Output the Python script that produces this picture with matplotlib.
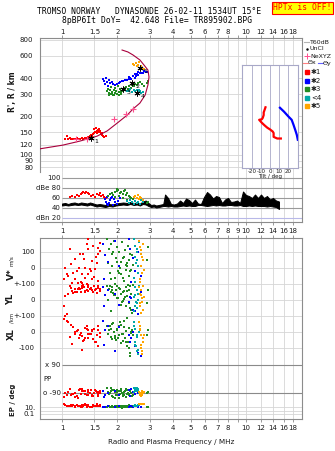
import numpy as np
import matplotlib
matplotlib.use("Agg")
import matplotlib.pyplot as plt
from matplotlib.lines import Line2D
from matplotlib.ticker import NullLocator

plt.rcParams['font.family'] = ['DejaVu Sans']
W, H = 335, 451

# ---------------- data ----------------
freq_ticks = [1, 1.5, 2, 3, 4, 5, 6, 7, 8, 9, 10, 12, 14, 16, 18]
freq_labels = ["1", "1.5", "2", "3", "4", "5", "6", "7", "8", "", "10", "12", "14", "16", "18"]
freq_labels_mid = ["1", "1.5", "2", "3", "4", "5", "6", "7", "8", "9", "10", "12", "14", "16", "18"]
range_ticks = [80, 90, 100, 120, 150, 200, 300, 400, 600, 800]
db_ticks = [100, 80, 60, 40, 20]
db_labels = ["100", "dBe 80", "60", "40", "dBn 20"]

# model profile (plasma frequency vs real height)
prof_f = [0.75, 1.01, 1.25, 1.55, 1.76, 2.0, 2.26, 2.43, 2.65, 2.83, 2.93, 2.97, 2.93, 2.79, 2.65, 2.43, 2.28, 2.12]
prof_km = [111, 119, 128, 140, 154, 178, 205, 229, 255, 295, 354, 409, 464, 508, 557, 610, 644, 667]
nexyz_f = [1.19, 1.37, 1.92, 2.23, 2.43]
nexyz_km = [133, 133, 191, 209, 229]
star_f = [1.44, 2.40, 2.14, 2.56, 2.65]
star_km = [136, 366, 329, 306, 483]
star_txt = ["1", "2", "3", "4", "5"]

# virtual range per cluster
red_rf = [1.04, 1.06, 1.08, 1.10, 1.12, 1.15, 1.18, 1.20, 1.22, 1.25, 1.28, 1.30, 1.33, 1.36, 1.38, 1.40, 1.42, 1.44, 1.46,
          1.48, 1.50, 1.52, 1.54, 1.55, 1.57, 1.58, 1.60, 1.62, 1.64, 1.66, 1.70, 1.74, 1.50, 1.53, 1.56, 1.45, 1.60, 1.65]
red_rkm = [134, 140, 133, 136, 134, 132, 133, 135, 134, 133, 135, 134, 135, 136, 137, 138, 140, 142, 141,
           145, 147, 150, 148, 155, 152, 158, 150, 146, 143, 141, 139, 140, 160, 162, 156, 137, 153, 147]
blue_rf = [1.67, 1.70, 1.74, 1.76, 1.80, 1.82, 1.86, 1.89, 1.95, 2.00, 2.05, 2.07, 2.12, 2.14, 2.20, 2.25, 2.30, 2.34,
           2.38, 2.43, 2.48, 2.52, 2.56, 2.60, 2.65, 2.70, 2.76, 2.80, 2.85, 2.90, 1.72, 1.78, 2.30, 2.50, 2.60]
blue_rkm = [394, 380, 400, 373, 385, 366, 372, 359, 352, 360, 368, 373, 380, 382, 390, 387, 395, 402,
            398, 416, 405, 420, 432, 425, 440, 436, 440, 452, 446, 449, 360, 350, 410, 430, 445]
green_rf = [1.76, 1.78, 1.80, 1.82, 1.85, 1.87, 1.90, 1.92, 1.95, 1.97, 2.0, 2.03, 2.06, 2.08, 2.10, 2.13, 2.16, 2.20,
            2.24, 2.28, 2.32, 2.36, 2.40, 2.45, 2.50, 2.55, 2.60, 2.66, 2.72, 2.80, 2.88, 2.95, 1.80, 1.86, 1.92,
            1.98, 2.04, 2.10, 1.84, 1.94, 2.02]
green_rkm = [318, 330, 305, 322, 300, 312, 296, 325, 305, 318, 298, 310, 328, 303, 315, 320, 335, 326,
             340, 330, 345, 338, 352, 348, 360, 355, 365, 372, 360, 350, 370, 380, 296, 300, 293,
             300, 295, 305, 340, 335, 345]
cyan_rf = [2.25, 2.30, 2.35, 2.40, 2.45, 2.50, 2.55, 2.60, 2.65, 2.70, 2.75, 2.58, 2.62, 2.68]
cyan_rkm = [320, 315, 330, 312, 325, 318, 322, 310, 316, 308, 312, 300, 326, 305]
orange_rf = [2.42, 2.47, 2.52, 2.56, 2.60, 2.65, 2.70, 2.74, 2.78, 2.62, 2.68]
orange_rkm = [520, 510, 530, 495, 505, 480, 490, 475, 470, 540, 500]

# tilt inset
tiltx_deg = [-5, -6, -7, -7, -8, -9, -12, -9, -6, -3, 0, 2, 3, 4, 4, 8, 12]
tiltx_km = [236, 225, 215, 205, 195, 190, 188, 178, 170, 163, 158, 154, 152, 148, 138, 134, 134]
tilty_deg = [11, 15.5, 20.3, 24, 26, 28, 29.7, 30.8]
tilty_km = [234, 218, 200, 188, 172, 156, 143, 131]

# amplitudes
red_df = [1.10, 1.13, 1.17, 1.20, 1.23, 1.26, 1.28, 1.30, 1.33, 1.35, 1.38, 1.40, 1.44, 1.48, 1.52, 1.55, 1.58,
          1.60, 1.63, 1.66, 1.70, 1.73]
red_db = [62, 64, 63, 66, 65, 68, 70, 72, 70, 73, 71, 69, 64, 66, 62, 68, 66, 70, 64, 67, 63, 60]
blue_df = [1.72, 1.74, 1.76, 1.78, 1.80, 1.82, 1.85, 1.88, 1.92, 1.95, 1.98, 2.02, 2.06, 1.75, 1.90]
blue_db = [58, 52, 48, 46, 50, 56, 60, 62, 58, 52, 48, 54, 60, 62, 46]
green_df = [1.78, 1.82, 1.86, 1.90, 1.94, 1.98, 2.02, 2.06, 2.10, 2.14, 2.18, 2.22, 2.26, 2.30, 2.34, 2.38, 2.42,
            1.95, 2.05, 2.15, 2.25, 2.0, 2.2, 2.9, 2.95]
green_db = [64, 68, 70, 66, 72, 74, 76, 70, 72, 68, 74, 66, 70, 64, 62, 60, 58, 62, 64, 60, 56, 78, 76, 50, 52]
cyan_df = [2.25, 2.30, 2.35, 2.40, 2.45, 2.50, 2.55, 2.60, 2.65, 2.70, 2.75]
cyan_db = [54, 50, 56, 52, 48, 55, 50, 53, 49, 56, 52]
orange_df = [2.45, 2.50, 2.55, 2.58, 2.62, 2.66, 2.70, 2.75]
orange_db = [62, 64, 60, 66, 58, 62, 60, 57]

# noise level trace (lower / upper envelope, dB)
noise_f = [1.00, 1.04, 1.08, 1.12, 1.17, 1.22, 1.27, 1.32, 1.37, 1.42, 1.48, 1.54, 1.60, 1.66, 1.72, 1.80, 1.88,
           1.96, 2.05, 2.15, 2.25, 2.35, 2.45, 2.55, 2.65, 2.75, 2.85, 2.95, 3.05, 3.15, 3.25, 3.35, 3.45, 3.55,
           3.63, 3.77, 3.91, 4.06, 4.22, 4.38, 4.55, 4.72, 4.90, 5.09, 5.28, 5.48, 5.69, 5.91, 6.14, 6.37, 6.62,
           6.87, 7.13, 7.41, 7.69, 7.98, 8.29, 8.61, 8.94, 9.28, 9.63, 10.0, 10.38, 10.78, 11.19, 11.62, 12.06,
           12.52, 13.0, 13.5, 14.02, 14.55, 15.11]
noise_hi = [49, 50, 48, 50, 51, 49, 51, 50, 49, 51, 49, 47, 48, 47, 46, 48, 47, 49, 50, 51, 50, 52, 50, 51, 49,
            53, 55, 50, 46, 47, 45, 46, 47, 48,
            67, 60, 48, 47, 49, 55, 50, 59, 56, 50, 57, 49, 48, 62, 72, 67, 59, 64, 62, 50, 57, 60, 52, 53, 55,
            50, 73, 66, 64, 60, 67, 60, 67, 60, 64, 57, 60, 55, 53]
noise_lo = [45, 46, 45, 46, 47, 46, 47, 46, 45, 47, 45, 43, 44, 43, 42, 44, 43, 45, 46, 47, 46, 48, 46, 47, 45,
            48, 47, 44, 42, 43, 41, 42, 43, 44,
            44, 43, 44, 43, 43, 44, 45, 44, 45, 44, 44, 46, 46, 45, 44, 45, 46, 45, 46, 45, 45, 46, 46, 45, 45,
            46, 44, 44, 45, 44, 45, 44, 44, 44, 43, 44, 43, 42, 38]

# velocity V* (m/s), location YL / XL (km), polarisation PP (deg), ellipticity EP (deg)
red_f = [1.39, 1.36, 1.39, 1.57, 1.61, 1.56, 1.25, 1.18, 1.31, 1.45, 1.04, 1.23, 1.33, 1.42, 1.20, 1.51, 1.15, 1.28,
         1.39, 1.08, 1.02, 1.18, 1.33, 1.45, 1.57, 1.13, 1.28, 1.06, 1.54, 1.61,
         1.10, 1.22, 1.30, 1.36, 1.44, 1.48, 1.50, 1.53, 1.12, 1.26]
red_v = [179, 148, 117, 127, 106, 85, 85, 54, 54, 44, 2, 2, 2, -8, -19, -8, -29, -40, -40, -50, -71, -71, -60, -71,
         -81, -92, -92, -40, 33, 158, 120, -95, 90, -100, -20, 140, -55, 70, 25, -85]
red_yl = [81, 62, 94, 75, 56, 88, 69, 50, 81, 62, 25, 75, 56, 69, 50, 62, 44, 75, 56, 38, -40, 69, 50, 62, 81, 56,
          88, -90, 44, 69, 85, 70, 92, 60, 78, 52, 88, 66, 72, 48]
red_xl = [-10, 20, -40, 10, -30, 40, -20, 0, -50, 15, 100, -35, 25, -10, 5, -60, 30, -25, 10, 60, 80, -15, -40, 5,
          -90, -75, -110, 70, -20, -5, -30, 15, -55, 35, -15, -45, 20, -65, 45, -5]
red_pp = [-70, -100, -85, -110, -75, -95, -65, -115, -80, -105, -90, -72, -98, -88, -112, -68, -94, -78, -102, -84,
          -118, -92, -74, -108, -86, -96, -66, -104, -82, -90, -62, -120, -80, -100, -70, -110, -90, -76, -106, -96]
red_ep = [20, 12, 35, 15, 50, 18, 25, 11, 40, 13, 30, 22, 60, 12, 28, 16, 45, 11, 33, 14, 55, 19, 38, 12, 26, 17,
          42, 20, 70, 24, 18, 24, 14, 30, 11, 36, 22, 16, 27, 13]

green_f = [1.76, 1.80, 1.84, 1.88, 1.92, 1.96, 2.00, 2.04, 2.08, 2.12, 2.16, 2.20, 2.24, 2.28, 2.32, 2.36, 2.40,
           1.78, 1.82, 1.86, 1.90, 1.94, 1.98, 2.02, 2.06, 2.10, 2.14, 2.18, 2.22, 2.26, 2.30, 2.34, 2.38, 2.42,
           1.85, 1.95, 2.05, 2.15, 2.25, 2.35, 2.90, 2.95]
green_v = [180, 120, 150, 90, 170, 60, 130, 100, 40, 160, 70, 110, 20, 140, 50, -10, 80, 30, -30, 10, 100, -60,
           40, -20, 0, -40, 60, -80, -10, 30, -50, 90, -90, 20, -70, -100, -30, -60, 10, -20, 50, 130]
green_yl = [90, 70, 50, 80, 30, 60, 10, 75, 40, -10, 55, 20, -40, 95, -20, -60, -80, 0, 85, 65, 45, 35, 90, 15,
            70, -30, 50, 5, 80, 25, 60, -50, 40, 95, -70, 30, 75, -5, 55, 85, -20, 60]
green_xl = [40, 10, -30, 50, 0, -50, 20, -20, 45, -10, 30, -40, 5, -60, 25, -5, 15, -15, 35, -45, 55, -25, 10,
            -35, 60, -70, -55, 70, -65, 90, -100, -130, 0, -20, 20, -40, 40, -10, -85, -150, -20, 10]
green_pp = [-60, -95, -80, -110, -70, -100, -85, -120, -65, -90, -105, -75, -115, -88, -98, -62, -108, -82, -92,
            -72, -118, -86, -68, -102, -96, -78, -112, -84, -66, -94, -104, -74, -90, -100, -58, -122, -80, -95,
            -70, -110, -90, -85]
green_ep = [10, 14, 8, 18, 11, 25, 9, 13, 16, 7, 20, 12, 10, 15, 30, 9, 12, 17, 11, 22, 8, 14, 19, 10, 13, 9, 16,
            11, 24, 12, 10, 15, 8, 18, 13, 11, 9, 14, 20, 10, 12, 10]

blue_f = [1.68, 1.72, 1.78, 2.30, 2.35, 2.42, 2.48, 1.95, 2.05, 2.60, 2.70, 1.70, 2.38]
blue_v = [150, 80, 40, 180, 120, 60, -20, 170, 10, 100, -50, -70, -90]
blue_yl = [80, 30, 60, -10, 20, -60, -70, 40, -30, -90, 50, -40, 10]
blue_xl = [70, 10, 40, -20, -60, 0, -90, -120, 30, -130, -150, -80, -40]
blue_pp = [-80, -100, -90, -70, -110, -85, -95, -75, -105, -88, -92, -115, -65]
blue_ep = [12, 9, 15, 10, 20, 8, 14, 11, 16, 9, 13, 10, 18]

cyan_f = [2.45, 2.50, 2.55, 2.48, 2.52, 2.58, 2.46, 2.60, 2.62, 2.54, 2.49, 2.57]
cyan_v = [180, 140, 100, 70, 30, -30, -60, 10, 160, 120, -90, 50]
cyan_yl = [20, -40, 60, 80, -10, 40, -70, 0, 90, -20, 30, -50]
cyan_xl = [60, 20, -20, -60, -90, -110, 40, -140, 0, -30, -80, -120]
cyan_pp = [-60, -70, -80, -55, -75, -65, -85, -70, -90, -60, -78, -68]
cyan_ep = [20, 30, 25, 40, 18, 35, 22, 28, 45, 15, 32, 26]

orange_f = [2.62, 2.66, 2.70, 2.74, 2.68, 2.72, 2.64, 2.76, 2.70, 2.65, 2.73, 2.78]
orange_v = [170, 130, 90, 50, 10, -30, -70, 150, 110, -90, 70, -10]
orange_yl = [80, -20, 30, -60, 60, 10, -40, 90, -80, 40, -10, 20]
orange_xl = [60, 20, -20, -60, -100, -140, 10, -40, -80, 40, -120, -20]
orange_pp = [-85, -95, -100, -90, -110, -80, -105, -92, -88, -98, -102, -86]
orange_ep = [70, 85, 65, 95, 75, 90, 68, 80, 72, 88, 66, 92]

RED, BLUE, GREEN, CYAN, ORANGE = '#ff0000', '#0000ff', '#228b22', '#00a8a8', '#ffa500'
legend_names = ["\u27311", "\u27312", "\u27313", "<4", "\u27315"]

# ---------------- layout helpers ----------------
fig = plt.figure(figsize=(W / 100, H / 100), dpi=100)


def box(x0, y0, x1, y1):
    return [x0 / W, 1 - y1 / H, (x1 - x0) / W, (y1 - y0) / H]


def fx(x):
    return x / W


def fy(y):
    return 1 - y / H


XLIM = (0.759, 20.15)
GRID = '#d6d6d6'
FRAME = '#8c8c8c'
TXT = '#1a1a1a'
FS = 5
SQ = dict(marker='s', s=3.2, linewidths=0)

axR = fig.add_axes(box(40, 38, 302, 172))
axD = fig.add_axes(box(40, 172, 302, 222))
axL = fig.add_axes(box(40, 238, 302, 419))
axT = fig.add_axes(box(242, 65, 298, 168))
axT.set_zorder(5)

for ax in (axR, axD, axL):
    ax.set_xscale('log')
    ax.set_xlim(*XLIM)
    ax.set_xticks(freq_ticks)
    ax.xaxis.set_minor_locator(NullLocator())
    ax.patch.set_alpha(0)
    for f in freq_ticks:
        ax.axvline(f, color=GRID, lw=0.6, zorder=0)
    for s in ax.spines.values():
        s.set_color(FRAME)
        s.set_linewidth(0.8)
    ax.tick_params(colors=FRAME, labelcolor=TXT, labelsize=FS, width=0.6)

# ---- range panel ----
axR.set_yscale('log')
axR.set_ylim(73.1, 829.5)
axR.yaxis.set_minor_locator(NullLocator())
axR.set_yticks(range_ticks)
axR.set_yticklabels([str(v) for v in range_ticks])
axR.tick_params(axis='y', length=0, pad=5)
for r in range_ticks:
    axR.axhline(r, color=GRID, lw=0.6, zorder=0)
axR.xaxis.tick_top()
axR.set_xticklabels(freq_labels)
axR.tick_params(axis='x', length=2, pad=0.5)
axR.spines['bottom'].set_visible(False)

axR.plot(prof_f, prof_km, color='#a8003c', lw=0.8, zorder=3)
axR.scatter(red_rf, red_rkm, color=RED, zorder=2, **SQ)
axR.scatter(blue_rf, blue_rkm, color=BLUE, zorder=2, **SQ)
axR.scatter(green_rf, green_rkm, color=GREEN, zorder=2, **SQ)
axR.scatter(cyan_rf, cyan_rkm, color=CYAN, zorder=2, **SQ)
axR.scatter(orange_rf, orange_rkm, color=ORANGE, zorder=2, **SQ)
axR.scatter(nexyz_f, nexyz_km, marker='+', color='#ff4f8f', s=14, linewidths=0.8, zorder=4)
axR.scatter(star_f, star_km, marker=(6, 2, 0), color='black', s=14, linewidths=0.7, zorder=5)
for f, r, t in zip(star_f, star_km, star_txt):
    axR.annotate(t, (f, r), xytext=(2.5, -2.5), textcoords='offset points', fontsize=4.5,
                 ha='left', va='center', zorder=5)

# ---- tilt inset ----
axT.set_yscale('log')
axT.set_ylim(78.5, 508)
axT.set_xlim(-31, 31)
axT.set_yticks([])
axT.yaxis.set_minor_locator(NullLocator())
axT.set_xticks([-20, -10, 0, 10, 20])
axT.set_xticklabels(["-20", "-10", "0", "10", "20"])
axT.tick_params(axis='x', length=0, pad=0.5, labelsize=4, labelcolor=TXT)
axT.set_xlabel("Tilt / deg", fontsize=4, labelpad=0, color=TXT)
for d in [-20, -10, 0, 10, 20]:
    axT.axvline(d, color='#a8a8c8', lw=0.6, zorder=0)
for s in axT.spines.values():
    s.set_color('#a8a8c8')
    s.set_linewidth(0.8)
axT.plot(tiltx_deg, tiltx_km, color=RED, lw=1.6)
axT.plot(tilty_deg, tilty_km, color=BLUE, lw=1.6)

# ---- amplitude panel ----
axD.set_ylim(12, 112)
axD.set_yticks([])
axD.spines['left'].set_visible(False)
axD.spines['top'].set_visible(False)
axD.set_xticklabels(freq_labels_mid)
axD.tick_params(axis='x', length=2, pad=2)
for v, lab in zip(db_ticks, db_labels):
    axD.hlines(v, 1.0, XLIM[1], color='#b8b8e8' if v == 20 else '#9a9a9a', lw=0.8, zorder=1)
    axD.text(0.985, v, lab, ha='right', va='center', fontsize=FS, color=TXT)
axD.fill_between(noise_f, noise_lo, noise_hi, color='black', lw=0.7, zorder=3)
axD.scatter(red_df, red_db, color=RED, zorder=4, **SQ)
axD.scatter(blue_df, blue_db, color=BLUE, zorder=4, **SQ)
axD.scatter(green_df, green_db, color=GREEN, zorder=4, **SQ)
axD.scatter(cyan_df, cyan_db, color=CYAN, zorder=4, **SQ)
axD.scatter(orange_df, orange_db, color=ORANGE, zorder=4, **SQ)

# ---- lower stacked panel: V*, YL, XL, PP, EP ----
YL_OFF, XL_OFF = -200, -400
PP_X, PP_O = -606.25, -781.25
EP10, EP_DEC = -868.75, 21.875
axL.set_ylim(-943.75, 187.5)
ytk = [100, 0, -100, -200, -300, -400, -500, EP10, EP10 - 2 * EP_DEC]
axL.set_yticks(ytk)
axL.set_yticklabels(["100", "0", "+-100", "0", "+-100", "0", "-100", "10.", "0.1"])
axL.tick_params(axis='y', length=0, pad=3.5)
axL.set_xticklabels(freq_labels)
axL.tick_params(axis='x', length=2, pad=2, top=True, direction='out')
for v in ytk + [EP10 - EP_DEC]:
    axL.axhline(v, color=GRID, lw=0.6, zorder=0)
axL.hlines([PP_X, PP_O], 1.0, XLIM[1], color='#8a8a8a', lw=0.8, zorder=1)
axL.text(0.985, PP_X, "x 90", ha='right', va='center', fontsize=FS, color=TXT)
axL.text(0.985, PP_O, "o -90", ha='right', va='center', fontsize=FS, color=TXT)
axL.text(0.79, -693.75, "PP", ha='left', va='center', fontsize=FS, color=TXT)
axL.set_xlabel("Radio and Plasma Frequency / MHz", fontsize=5.2, labelpad=6, color=TXT)

groups = [(RED, red_f, red_v, red_yl, red_xl, red_pp, red_ep),
          (GREEN, green_f, green_v, green_yl, green_xl, green_pp, green_ep),
          (BLUE, blue_f, blue_v, blue_yl, blue_xl, blue_pp, blue_ep),
          (CYAN, cyan_f, cyan_v, cyan_yl, cyan_xl, cyan_pp, cyan_ep),
          (ORANGE, orange_f, orange_v, orange_yl, orange_xl, orange_pp, orange_ep)]
for col, f, v, yl, xl, pp, ep in groups:
    f = np.array(f)
    axL.scatter(f, np.array(v), color=col, zorder=3, **SQ)
    axL.scatter(f, np.array(yl) + YL_OFF, color=col, zorder=3, **SQ)
    axL.scatter(f, np.array(xl) + XL_OFF, color=col, zorder=3, **SQ)
    axL.scatter(f, PP_O + (np.array(pp) + 90) * (PP_X - PP_O) / 180, color=col, zorder=3, **SQ)
    axL.scatter(f, EP10 + (np.log10(ep) - 1) * EP_DEC, color=col, zorder=3, **SQ)

# ---- side labels ----
fig.text(fx(12), fy(92), "R', R / km", rotation=90, ha='center', va='center', fontsize=5.5,
         fontweight='bold', color=TXT)
fig.text(fx(11), fy(274), "V*", rotation=90, ha='center', va='center', fontsize=6.5, fontweight='bold', color=TXT)
fig.text(fx(11), fy(261), "m/s", rotation=90, ha='center', va='center', fontsize=4.2, color=TXT)
fig.text(fx(11), fy(299), "YL", rotation=90, ha='center', va='center', fontsize=6, fontweight='bold', color=TXT)
fig.text(fx(11.5), fy(318), "/km", rotation=90, ha='center', va='center', fontsize=3.8, color=TXT)
fig.text(fx(11), fy(334), "XL", rotation=90, ha='center', va='center', fontsize=6, fontweight='bold', color=TXT)
fig.text(fx(13), fy(400), "EP / deg", rotation=90, ha='center', va='center', fontsize=5, fontweight='bold',
         color=TXT)

# ---- header ----
mono = 'DejaVu Sans Mono'
fig.text(fx(149), fy(12), "TROMSO NORWAY   DYNASONDE 26-02-11 1534UT 15\u00b0E", family=mono, fontsize=5.8,
         ha='center', va='center')
fig.text(fx(157), fy(20.5), "8pBP6It DoY=  42.648 File= TR895902.BPG", family=mono, fontsize=5.8,
         ha='center', va='center')
fig.text(fx(302.5), fy(8), "HPTx is OFF!", family=mono, fontsize=5.8, color='red', ha='center', va='center',
         bbox=dict(boxstyle='square,pad=0.15', fc='#ffff00', ec='red', lw=0.8))

# ---- legend ----
fig.add_artist(Line2D([fx(303.5), fx(309)], [fy(42)] * 2, color='#b4b4b4', lw=0.8))
fig.text(fx(310), fy(42), "T60dB", fontsize=4.5, va='center', color=TXT)
fig.add_artist(Line2D([fx(306.5)], [fy(49)], marker='.', ms=1.5, color='black', lw=0))
fig.text(fx(310), fy(49), "UnCl", fontsize=4.5, va='center', color=TXT)
fig.add_artist(Line2D([fx(306.5)], [fy(56)], marker='+', ms=4, mew=0.7, color='#ff4f8f', lw=0))
fig.text(fx(310), fy(56), "NeXYZ", fontsize=4.5, va='center', color=TXT)
fig.add_artist(Line2D([fx(303), fx(307.5)], [fy(63)] * 2, color='#ff8080', lw=0.8))
fig.text(fx(308), fy(63), "\u0398x", fontsize=4.5, va='center', color=TXT)
fig.add_artist(Line2D([fx(318), fx(322.5)], [fy(63)] * 2, color='#6060ff', lw=0.8))
fig.text(fx(323), fy(63), "\u0398y", fontsize=4.5, va='center', color=TXT)
for i, (col, name) in enumerate(zip([RED, BLUE, GREEN, CYAN, ORANGE], legend_names)):
    yy = 72.3 + i * 8.4
    fig.add_artist(Line2D([fx(306.5)], [fy(yy)], marker='s', ms=2.4, color=col, lw=0))
    fig.text(fx(311), fy(yy), name, fontsize=5, va='center', color=TXT)

fig.savefig("out.png", dpi=100)
